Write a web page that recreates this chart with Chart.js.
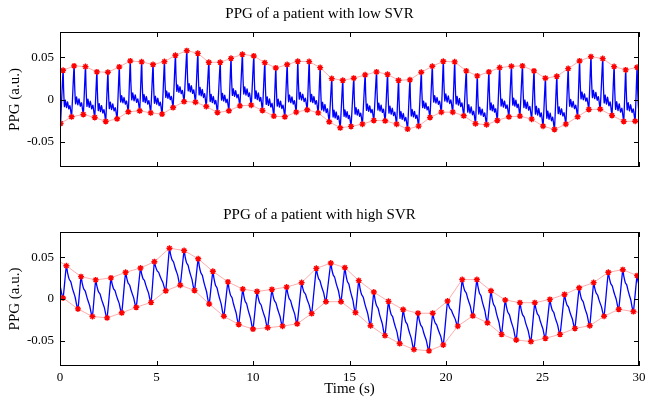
<!DOCTYPE html>
<html>
<head>
<meta charset="utf-8">
<script src="https://cdn.jsdelivr.net/npm/chart.js@4"></script>
<style>
    body { margin: 0; background: #fff; }
    #wrap { position: relative; width: 645px; height: 398px; }
    canvas { position: absolute; left: 0; }
</style>
</head>
<body>
<div id="wrap">
    <canvas id="chart-low" width="645" height="190" style="top:0"></canvas>
    <canvas id="chart-high" width="645" height="208" style="top:190px"></canvas>
</div>
<script>
// low SVR: troughs (foot) and systolic peaks, seconds / a.u.
const lowTroughT = [0.03, 0.6, 1.21, 1.8, 2.37, 2.96, 3.54, 4.13, 4.7, 5.29, 5.86, 6.43, 7.02,
    7.58, 8.16, 8.75, 9.32, 9.91, 10.49, 11.08, 11.65, 12.24, 12.81, 13.38, 13.95, 14.52,
    15.08, 15.67, 16.26, 16.85, 17.44, 18.01, 18.58, 19.17, 19.76, 20.35, 20.92, 21.53, 22.1,
    22.66, 23.26, 23.83, 24.44, 25.03, 25.62, 26.21, 26.82, 27.4, 27.99, 28.6, 29.21, 29.8, 30.38];
const lowTroughV = [-0.0284, -0.0205, -0.0177, -0.0213, -0.026, -0.0229, -0.0146, -0.0134, -0.0158, -0.0173, -0.0095, -0.0024, -0.0032,
    -0.0083, -0.0154, -0.0134, -0.0075, -0.0067, -0.013, -0.0197, -0.0205, -0.015, -0.0122, -0.0158, -0.0264, -0.0335,
    -0.0319, -0.0292, -0.0248, -0.0252, -0.0292, -0.0351, -0.0316, -0.0213, -0.015, -0.015, -0.0193, -0.0287, -0.0299,
    -0.0248, -0.0205, -0.0197, -0.0233, -0.0316, -0.0355, -0.0292, -0.0205, -0.0118, -0.0115, -0.0189, -0.026, -0.0257, -0.024];
const lowPeakT = [0.16, 0.73, 1.32, 1.91, 2.48, 3.07, 3.64, 4.23, 4.82, 5.41, 5.98, 6.57, 7.14,
    7.71, 8.3, 8.86, 9.45, 10.04, 10.61, 11.18, 11.77, 12.32, 12.91, 13.48, 14.08, 14.65,
    15.22, 15.81, 16.4, 16.97, 17.54, 18.13, 18.72, 19.29, 19.86, 20.45, 21.05, 21.62, 22.22,
    22.78, 23.39, 23.96, 24.56, 25.15, 25.74, 26.33, 26.92, 27.51, 28.12, 28.71, 29.31, 29.9, 30.5];
const lowPeakV = [0.0346, 0.0398, 0.039, 0.0327, 0.0323, 0.0386, 0.0457, 0.0446, 0.0414, 0.0449, 0.0524, 0.0579, 0.0547,
    0.0441, 0.0441, 0.0488, 0.0536, 0.0516, 0.0437, 0.0374, 0.0414, 0.0453, 0.0449, 0.0378, 0.0248, 0.0228,
    0.0252, 0.0292, 0.0327, 0.0299, 0.0228, 0.0233, 0.0323, 0.0394, 0.0453, 0.0446, 0.0339, 0.028, 0.0327,
    0.0378, 0.0394, 0.0398, 0.0339, 0.0252, 0.0275, 0.0366, 0.0457, 0.0508, 0.0485, 0.039, 0.0351, 0.0382, 0.039];

// high SVR
const highTroughT = [-0.62, 0.16, 0.93, 1.68, 2.44, 3.2, 3.95, 4.72, 5.48, 6.23, 6.97,
    7.73, 8.49, 9.26, 10.0, 10.76, 11.53, 12.29, 13.04, 13.78, 14.56,
    15.31, 16.09, 16.84, 17.6, 18.34, 19.12, 19.86, 20.61, 21.39, 22.15,
    22.88, 23.64, 24.4, 25.15, 25.91, 26.68, 27.45, 28.19, 28.95, 29.71, 30.47];
const highTroughV = [0.004, 0.0012, -0.0118, -0.0209, -0.0225, -0.0165, -0.0099, -0.004, 0.0098, 0.0165, 0.0102,
    -0.0059, -0.0206, -0.0304, -0.0359, -0.0343, -0.0324, -0.0296, -0.0174, -0.0032, -0.0032,
    -0.0162, -0.0319, -0.0437, -0.0532, -0.0603, -0.0619, -0.0548, -0.0324, -0.0201, -0.0284,
    -0.0422, -0.0489, -0.0508, -0.0469, -0.0422, -0.0351, -0.0319, -0.0206, -0.0123, -0.015, -0.018];
const highPeakT = [-0.43, 0.33, 1.09, 1.85, 2.64, 3.4, 4.17, 4.89, 5.67, 6.43, 7.16,
    7.92, 8.7, 9.47, 10.21, 10.98, 11.74, 12.52, 13.28, 14.03, 14.76,
    15.48, 16.26, 17.02, 17.78, 18.55, 19.31, 20.08, 20.84, 21.6, 22.33,
    23.07, 23.83, 24.6, 25.38, 26.14, 26.9, 27.65, 28.41, 29.16, 29.9, 30.66];
const highPeakV = [0.0505, 0.0397, 0.0267, 0.0228, 0.0252, 0.0319, 0.037, 0.0445, 0.0606, 0.0579, 0.048,
    0.0331, 0.0204, 0.0118, 0.009, 0.0114, 0.0142, 0.0196, 0.0366, 0.0429, 0.0374,
    0.022, 0.0083, -0.0028, -0.0126, -0.017, -0.017, -0.0024, 0.0232, 0.0232, 0.0098,
    -0.0012, -0.0044, -0.0044, -0.0005, 0.0054, 0.0134, 0.0196, 0.0319, 0.035, 0.0279, 0.026];

// shape of one beat from peak down to next foot, read off a typical beat: [fraction of time, fraction of height]
const beatShapeLow = [[0.06, 0.6], [0.16, 0.22], [0.27, 0.36], [0.4, 0.2], [0.53, 0.32], [0.67, 0.17], [0.8, 0.24], [0.9, 0.12]];
const beatShapeHigh = [[0.1, 0.84], [0.24, 0.69], [0.38, 0.63], [0.5, 0.5], [0.62, 0.39], [0.76, 0.27], [0.88, 0.1]];

const xTicks = [0, 5, 10, 15, 20, 25, 30];
const yTicks = [-0.05, 0, 0.05];

function toPoints(ts, vs) {
    return ts.map((t, i) => ({ x: t, y: vs[i] }));
}

function buildTrace(troughT, troughV, peakT, peakV, shape) {
    const pts = [];
    for (let i = 0; i < peakT.length; i++) {
        pts.push({ x: troughT[i], y: troughV[i] });
        pts.push({ x: peakT[i], y: peakV[i] });
        if (i + 1 < troughT.length) {
            const dt = troughT[i + 1] - peakT[i];
            const dv = peakV[i] - troughV[i + 1];
            shape.forEach(([ph, fr]) => {
                pts.push({ x: peakT[i] + ph * dt, y: troughV[i + 1] + fr * dv });
            });
        }
    }
    return pts;
}

// matlab style box with inward ticks
const boxPlugin = {
    id: "box",
    afterDatasetsDraw(chart) {
        const { ctx, chartArea: a, scales } = chart;
        const x = scales.x, y = scales.y;
        ctx.save();
        ctx.strokeStyle = "#000";
        ctx.lineWidth = 1;
        ctx.strokeRect(Math.round(a.left) + 0.5, Math.round(a.top) + 0.5, Math.round(a.width) - 1, Math.round(a.height) - 1);
        ctx.beginPath();
        xTicks.forEach(v => {
            const px = Math.round(x.getPixelForValue(v)) + 0.5;
            ctx.moveTo(px, a.bottom); ctx.lineTo(px, a.bottom - 5);
            ctx.moveTo(px, a.top); ctx.lineTo(px, a.top + 5);
        });
        yTicks.forEach(v => {
            const py = Math.round(y.getPixelForValue(v)) + 0.5;
            ctx.moveTo(a.left, py); ctx.lineTo(a.left + 5, py);
            ctx.moveTo(a.right, py); ctx.lineTo(a.right - 5, py);
        });
        ctx.stroke();
        ctx.restore();
    }
};

function makeChart(id, title, titlePad, trace, peaks, troughs, showX, xHeight) {
    const serif = "'Liberation Serif', 'Times New Roman', serif";
    const envelope = {
        type: "line",
        showLine: true,
        borderColor: "rgba(255, 90, 90, 0.5)",
        borderWidth: 1,
        pointStyle: "star",
        pointRadius: 3,
        pointBorderWidth: 1.4,
        pointBorderColor: "#ff0000",
        pointBackgroundColor: "#ff0000",
        order: 0,
    };
    return new Chart(document.getElementById(id), {
        type: "line",
        data: {
            datasets: [
                Object.assign({ data: peaks }, envelope),
                Object.assign({ data: troughs }, envelope),
                {
                    data: trace,
                    borderColor: "#0000ff",
                    borderWidth: 1.3,
                    pointRadius: 0,
                    tension: 0.2,
                    order: 1,
                },
            ],
        },
        options: {
            responsive: false,
            animation: false,
            devicePixelRatio: 1,
            layout: { padding: { left: 0, right: 6, top: 0, bottom: 0 } },
            plugins: {
                legend: { display: false },
                tooltip: { enabled: false },
                title: {
                    display: true,
                    text: title,
                    color: "#000",
                    font: { family: serif, size: 15, weight: "normal" },
                    padding: titlePad,
                },
            },
            scales: {
                x: {
                    type: "linear",
                    min: 0,
                    max: 30,
                    grid: { display: false, drawTicks: false },
                    border: { display: false },
                    afterBuildTicks: s => { s.ticks = xTicks.map(v => ({ value: v })); },
                    ticks: {
                        display: showX,
                        color: "#000",
                        padding: 4,
                        maxRotation: 0,
                        font: { family: serif, size: 13 },
                    },
                    title: {
                        display: showX,
                        text: "Time (s)",
                        color: "#000",
                        padding: { top: 0, bottom: 0 },
                        font: { family: serif, size: 15 },
                    },
                    afterFit: s => { s.height = xHeight; s.paddingLeft = 0; s.paddingRight = 0; },
                },
                y: {
                    min: -0.08,
                    max: 0.08,
                    grid: { display: false, drawTicks: false },
                    border: { display: false },
                    afterBuildTicks: s => { s.ticks = yTicks.map(v => ({ value: v })); },
                    ticks: {
                        color: "#000",
                        padding: 6,
                        font: { family: serif, size: 13 },
                        callback: v => String(v),
                    },
                    title: {
                        display: true,
                        text: "PPG (a.u.)",
                        color: "#000",
                        padding: { top: 6, bottom: 0 },
                        font: { family: serif, size: 15 },
                    },
                    afterFit: s => { s.width = 60; s.paddingTop = 0; s.paddingBottom = 0; },
                },
            },
        },
        plugins: [boxPlugin],
    });
}

makeChart("chart-low", "PPG of a patient with low SVR", { top: 5, bottom: 9 },
    buildTrace(lowTroughT, lowTroughV, lowPeakT, lowPeakV, beatShapeLow),
    toPoints(lowPeakT, lowPeakV), toPoints(lowTroughT, lowTroughV), false, 23);

makeChart("chart-high", "PPG of a patient with high SVR", { top: 16, bottom: 8 },
    buildTrace(highTroughT, highTroughV, highPeakT, highPeakV, beatShapeHigh),
    toPoints(highPeakT, highPeakV), toPoints(highTroughT, highTroughV), true, 32);
</script>
</body>
</html>
